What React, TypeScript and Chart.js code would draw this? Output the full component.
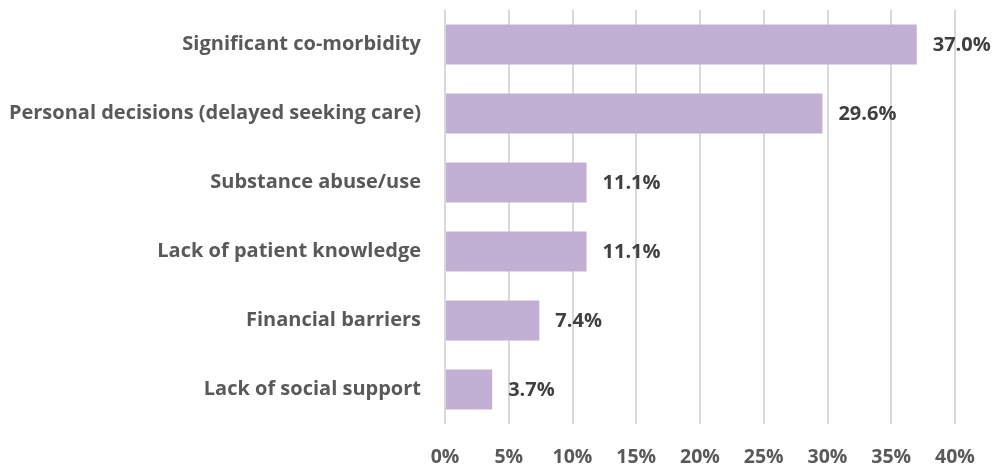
import React, { useEffect, useRef } from "react";
import { Chart, registerables } from "chart.js";

Chart.register(...registerables);

const categories = [
  "Significant co-morbidity",
  "Personal decisions (delayed seeking care)",
  "Substance abuse/use",
  "Lack of patient knowledge",
  "Financial barriers",
  "Lack of social support",
];
const shares = [37.0, 29.6, 11.1, 11.1, 7.4, 3.7];
const tickStep = 5;
const axisMax = 40;

const FONT = "'Open Sans', Lato, sans-serif";

// Writes the percentage just past the end of each bar
const valueLabels = {
  id: "valueLabels",
  afterDatasetsDraw(chart: any) {
    const { ctx } = chart;
    const meta = chart.getDatasetMeta(0);
    ctx.save();
    ctx.font = `bold 20px ${FONT}`;
    ctx.fillStyle = "#404040";
    ctx.textAlign = "left";
    ctx.textBaseline = "middle";
    meta.data.forEach((bar: any, i: number) => {
      ctx.fillText(`${shares[i].toFixed(1)}%`, bar.x + 16, bar.y + 1);
    });
    ctx.restore();
  },
};

export default function App() {
  const canvasRef = useRef<HTMLCanvasElement>(null);

  useEffect(() => {
    const chart = new Chart(canvasRef.current!, {
      type: "bar",
      data: {
        labels: categories,
        datasets: [
          {
            data: shares,
            backgroundColor: "#C2B0D4",
            borderWidth: 0,
            barPercentage: 0.58,
            categoryPercentage: 1,
          },
        ],
      },
      options: {
        indexAxis: "y",
        animation: false,
        responsive: false,
        maintainAspectRatio: false,
        layout: { padding: { top: 10, right: 44, left: 0, bottom: 0 } },
        plugins: {
          legend: { display: false },
          tooltip: { enabled: false },
        },
        scales: {
          x: {
            min: 0,
            max: axisMax,
            border: { display: false },
            grid: { color: "#D9D9D9", lineWidth: 2, drawTicks: false },
            ticks: {
              stepSize: tickStep,
              padding: 22,
              color: "#595959",
              font: { family: FONT, size: 19.5, weight: "bold" },
              callback: (v: any) => `${v}%`,
            },
            afterFit: (scale: any) => {
              scale.height = 44;
            },
          },
          y: {
            border: { display: false },
            grid: { display: false, drawTicks: false },
            ticks: {
              padding: 24,
              color: "#595959",
              font: { family: FONT, size: 20, weight: "bold" },
            },
            afterFit: (scale: any) => {
              scale.width = 445;
              scale.paddingTop = 0;
              scale.paddingBottom = 0;
            },
          },
        },
      },
      plugins: [valueLabels],
    });
    return () => chart.destroy();
  }, []);

  return (
    <div style={{ position: "fixed", left: 0, top: 0, width: 999, height: 468, background: "#fff" }}>
      <canvas ref={canvasRef} width={999} height={468} />
    </div>
  );
}
